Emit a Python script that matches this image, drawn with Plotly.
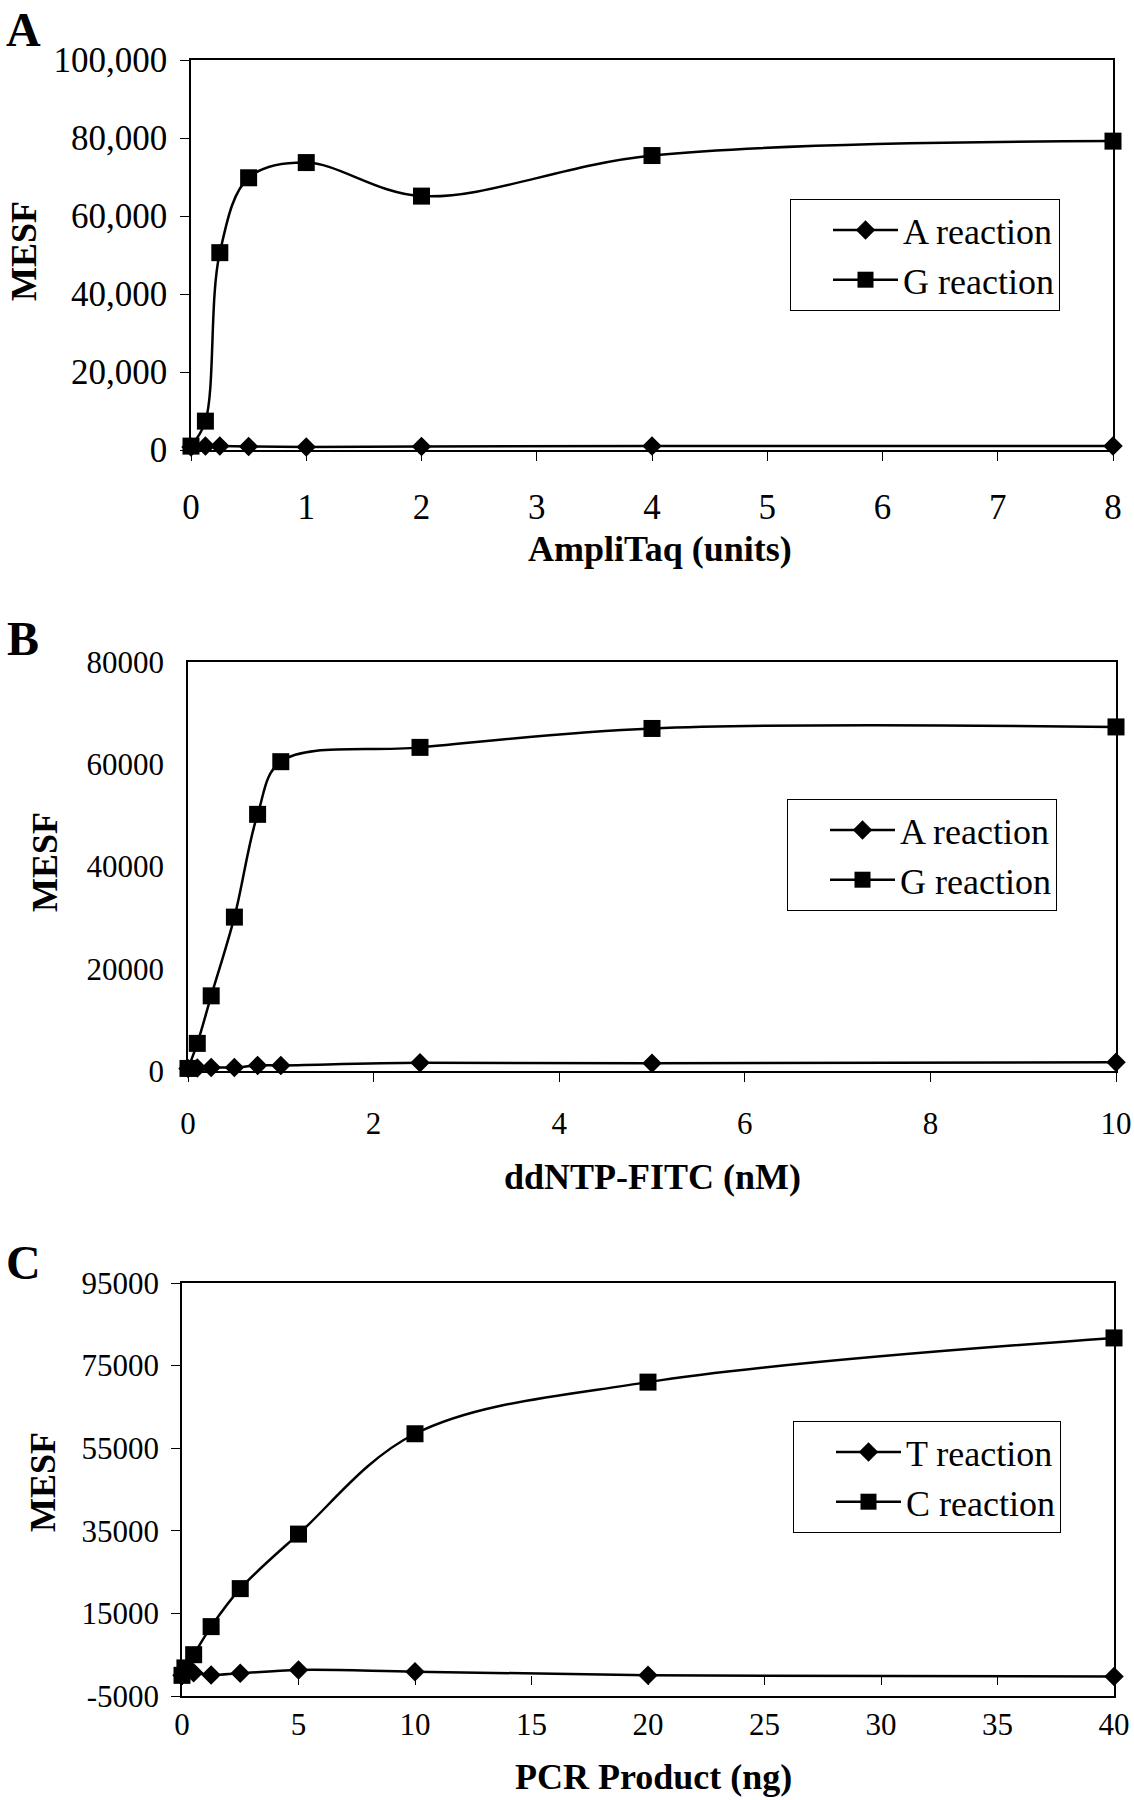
import plotly.graph_objects as go

W, H = 1134, 1800
SERIF = "Liberation Serif, Times New Roman, serif"

# ---------------- data ----------------
A_x = [0, 0.125, 0.25, 0.5, 1, 2, 4, 8]
A_a_reaction = [800, 1000, 1000, 900, 800, 900, 1000, 1000]
A_g_reaction = [1000, 7400, 50600, 69800, 73700, 65100, 75500, 79200]

B_x = [0, 0.1, 0.25, 0.5, 0.75, 1, 2.5, 5, 10]
B_a_reaction = [500, 600, 700, 700, 1100, 1100, 1600, 1500, 1700]
B_g_reaction = [500, 5400, 14700, 30100, 50200, 60500, 63300, 67000, 67300]

C_x = [0, 0.125, 0.5, 1.25, 2.5, 5, 10, 20, 40]
C_t_reaction = [0, 500, 600, 100, 500, 1300, 900, 0, -300]
C_c_reaction = [0, 1800, 5000, 11800, 21000, 34200, 58500, 71000, 81700]

A_xticks = [0, 1, 2, 3, 4, 5, 6, 7, 8]
A_yticks = [0, 20000, 40000, 60000, 80000, 100000]
A_ytext = ["0", "20,000", "40,000", "60,000", "80,000", "100,000"]

B_xticks = [0, 2, 4, 6, 8, 10]
B_yticks = [0, 20000, 40000, 60000, 80000]
B_ytext = ["0", "20000", "40000", "60000", "80000"]

C_xticks = [0, 5, 10, 15, 20, 25, 30, 35, 40]
C_yticks = [-5000, 15000, 35000, 55000, 75000, 95000]
C_ytext = ["-5000", "15000", "35000", "55000", "75000", "95000"]

A_range_y = [0, 100000]
B_range_y = [0, 80000]
C_range_y = [-5000, 95000]


def xd(a, b):
    return [a / W, b / W]


def yd(top, bottom):
    return [1 - bottom / H, 1 - top / H]


def px(x):
    return x / W


def py(y):
    return 1 - y / H


fig = go.Figure()


def add_pair(x, y1, y2, n1, n2, xa, ya, leg):
    fig.add_trace(go.Scatter(
        x=x, y=y1, name=n1, mode="lines+markers",
        line=dict(color="black", width=2.5, shape="spline", smoothing=1),
        marker=dict(symbol="diamond", size=15, color="black"),
        xaxis=xa, yaxis=ya, legend=leg, cliponaxis=False))
    fig.add_trace(go.Scatter(
        x=x, y=y2, name=n2, mode="lines+markers",
        line=dict(color="black", width=2.5, shape="spline", smoothing=1),
        marker=dict(symbol="square", size=17, color="black"),
        xaxis=xa, yaxis=ya, legend=leg, cliponaxis=False))


add_pair(A_x, A_a_reaction, A_g_reaction, "A reaction", "G reaction", "x", "y", "legend")
add_pair(B_x, B_a_reaction, B_g_reaction, "A reaction", "G reaction", "x2", "y2", "legend2")
add_pair(C_x, C_t_reaction, C_c_reaction, "T reaction", "C reaction", "x3", "y3", "legend3")


def ax(size, **kw):
    d = dict(showline=True, linecolor="black", linewidth=1.5, mirror=True,
             showgrid=False, zeroline=False, tickcolor="black", automargin=False,
             tickfont=dict(family=SERIF, color="black", size=size))
    d.update(kw)
    return d


A_dom_x, A_dom_y = xd(191, 1113), yd(60, 450)
fig.update_layout(
    xaxis=ax(35, domain=A_dom_x, anchor="y", range=[0, 8], tickvals=A_xticks,
             ticks="outside", ticklen=9, ticklabelstandoff=16),
    yaxis=ax(35, domain=A_dom_y, anchor="x", range=A_range_y, tickvals=A_yticks, ticktext=A_ytext,
             ticks="outside", ticklen=9, ticklabelstandoff=6),
)

B_dom_x, B_dom_y = xd(188, 1116), yd(662, 1071)
fig.update_layout(
    xaxis2=ax(31, domain=B_dom_x, anchor="y2", range=[0, 10], tickvals=B_xticks,
              ticks="outside", ticklen=9, ticklabelstandoff=15),
    yaxis2=ax(31, domain=B_dom_y, anchor="x2", range=B_range_y, tickvals=B_yticks, ticktext=B_ytext,
              ticks="", ticklabelstandoff=16),
)

C_dom_x, C_dom_y = xd(182, 1114), yd(1283, 1696)
zero_pos = C_dom_y[0] + (0 - C_range_y[0]) / (C_range_y[1] - C_range_y[0]) * (C_dom_y[1] - C_dom_y[0])
fig.update_layout(
    xaxis3=ax(31, domain=C_dom_x, anchor="y3", range=[0, 40], tickvals=C_xticks,
              ticks="", ticklabelstandoff=0),
    xaxis4=dict(overlaying="x3", matches="x3", anchor="free", position=zero_pos, automargin=False,
                range=[0, 40], tickvals=C_xticks, ticks="outside", ticklen=9, tickcolor="black",
                showticklabels=False, showline=False, showgrid=False, zeroline=False),
    yaxis3=ax(31, domain=C_dom_y, anchor="x3", range=C_range_y, tickvals=C_yticks, ticktext=C_ytext,
              ticks="outside", ticklen=9, ticklabelstandoff=6),
)
# invisible trace that activates the overlay axis carrying the zero-level ticks
fig.add_trace(go.Scatter(x=[C_xticks[0]], y=[C_range_y[0]], mode="markers",
                         marker=dict(opacity=0), xaxis="x4", yaxis="y3",
                         showlegend=False, hoverinfo="skip"))

PAD = "\u00a0\u00a0\u00a0"
leg_common = dict(bgcolor="white", bordercolor="black", borderwidth=1,
                  font=dict(family=SERIF, size=36, color="black"),
                  title=dict(text=PAD, side="left", font=dict(family=SERIF, size=36)),
                  xanchor="right", yanchor="top", itemwidth=65, tracegroupgap=0)
fig.update_layout(
    legend=dict(x=px(1060), y=py(199), **leg_common),
    legend2=dict(x=px(1057), y=py(799), **leg_common),
    legend3=dict(x=px(1061), y=py(1421), **leg_common),
)

annotations = []
for letter, yy in [("A", 1), ("B", 610), ("C", 1234)]:
    annotations.append(dict(text="<b>" + letter + "</b>", x=px(23), y=py(yy), xref="paper", yref="paper",
                            showarrow=False, font=dict(family=SERIF, size=48, color="black"),
                            xanchor="center", yanchor="top"))
for txt, xx, yy, anc in [("AmpliTaq (units)", 660, 549, "middle"), ("ddNTP-FITC (nM)", 652, 1177, "middle"),
                         ("PCR Product (ng)", 653, 1799, "bottom")]:
    annotations.append(dict(text="<b>" + txt + "</b>", x=px(xx), y=py(yy), xref="paper", yref="paper",
                            showarrow=False, font=dict(family=SERIF, size=36, color="black"),
                            xanchor="center", yanchor=anc))
for xx, yy in [(24, 251), (45, 862), (43, 1482)]:
    annotations.append(dict(text="<b>MESF</b>", x=px(xx), y=py(yy), xref="paper", yref="paper",
                            showarrow=False, textangle=-90,
                            font=dict(family=SERIF, size=36, color="black"),
                            xanchor="center", yanchor="middle"))

fig.update_layout(
    width=W, height=H, margin=dict(l=0, r=0, t=0, b=0, autoexpand=False),
    paper_bgcolor="white", plot_bgcolor="white",
    annotations=annotations, showlegend=True,
    font=dict(family=SERIF, color="black"),
)

fig.write_html(
    "out.html",
    post_script="document.body.style.margin='0';document.body.style.padding='0';"
                "document.documentElement.style.overflow='hidden';document.body.style.overflow='hidden';",
)
